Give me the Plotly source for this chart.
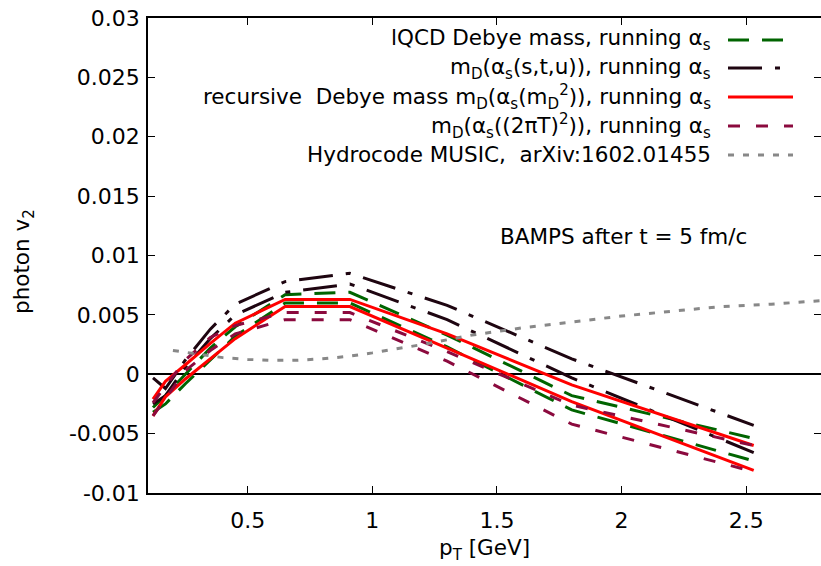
import plotly.graph_objects as go

# ---- data ----
pt = [0.12, 0.17, 0.25, 0.35, 0.45, 0.65, 0.91, 1.3, 1.8, 2.53]

lqcd_hi = [-0.0028, -0.0018, 0.0000, 0.0022, 0.0040, 0.0067, 0.0069, 0.0033, -0.0018, -0.0054]
lqcd_lo = [-0.0032, -0.0025, -0.0008, 0.0012, 0.0032, 0.0060, 0.0060, 0.0023, -0.0030, -0.0073]

stu_hi = [-0.0003, -0.0012, 0.0012, 0.0038, 0.0059, 0.0078, 0.0085, 0.0058, 0.0013, -0.0043]
stu_lo = [-0.0025, -0.0018, 0.0006, 0.0030, 0.0050, 0.0069, 0.0076, 0.0046, -0.0003, -0.0066]

rec_hi = [-0.0021, -0.0006, 0.0008, 0.0026, 0.0043, 0.0063, 0.0063, 0.0034, -0.0009, -0.0060]
rec_lo = [-0.0035, -0.0019, -0.0004, 0.0013, 0.0030, 0.0057, 0.0057, 0.0022, -0.0023, -0.0081]

t2pi_hi = [-0.0024, -0.0010, 0.0012, 0.0031, 0.0041, 0.0052, 0.0052, 0.0019, -0.0026, -0.0060]
t2pi_lo = [-0.0035, -0.0020, 0.0003, 0.0020, 0.0034, 0.0046, 0.0046, 0.0011, -0.0042, -0.0082]

hydro_pt = [0.2, 0.3, 0.4, 0.5, 0.6, 0.7, 0.8, 0.9, 1.0, 1.2, 1.4, 1.6, 1.8, 2.0, 2.2, 2.4, 2.6, 2.8]
hydro_v2 = [0.0020, 0.0017, 0.0014, 0.00125, 0.00117, 0.00118, 0.0013, 0.0015, 0.0018,
            0.0025, 0.0033, 0.0039, 0.0044, 0.0049, 0.0053, 0.0057, 0.0059, 0.0062]

y_tickvals = [-0.01, -0.005, 0, 0.005, 0.01, 0.015, 0.02, 0.025, 0.03]
y_ticktext = ["-0.01", "-0.005", "0", "0.005", "0.01", "0.015", "0.02", "0.025", "0.03"]
x_tickvals = [0.5, 1, 1.5, 2, 2.5]
x_ticktext = ["0.5", "1", "1.5", "2", "2.5"]

legend_labels = [
    "lQCD Debye mass, running α<sub>s</sub>",
    "m<sub>D</sub>(α<sub>s</sub>(s,t,u)), running α<sub>s</sub>",
    "recursive  Debye mass m<sub>D</sub>(α<sub>s</sub>(m<sub>D</sub><sup>2</sup>)), running α<sub>s</sub>",
    "m<sub>D</sub>(α<sub>s</sub>((2πT)<sup>2</sup>)), running α<sub>s</sub>",
    "Hydrocode MUSIC,  arXiv:1602.01455",
]

# ---- styles ----
FONT = "DejaVu Sans, Liberation Sans, Arial, sans-serif"
FS = 21.5
FS_TICK = 22
GREEN = "#006400"
BLACK = "#1e0510"
RED = "#ff0000"
MAROON = "#8b0a3e"
GRAY = "#888888"
LW = 3
styles = [
    (GREEN, "21px,13px"),
    (BLACK, "34px,13px,5px,13px"),
    (RED, "solid"),
    (MAROON, "12px,16px"),
    (GRAY, "6px,9px"),
]

fig = go.Figure()
series = [(lqcd_hi, lqcd_lo), (stu_hi, stu_lo), (rec_hi, rec_lo), (t2pi_hi, t2pi_lo)]
for (hi, lo), (col, dash) in zip(series, styles[:4]):
    for ys in (hi, lo):
        fig.add_trace(go.Scatter(x=pt, y=ys, mode="lines",
                                 line=dict(color=col, width=LW, dash=dash),
                                 showlegend=False, hoverinfo="skip"))
fig.add_trace(go.Scatter(x=hydro_pt, y=hydro_v2, mode="lines",
                         line=dict(color=GRAY, width=LW, dash=styles[4][1]),
                         showlegend=False, hoverinfo="skip"))

# ---- layout geometry ----
W, H = 821, 566
L, R, T, B = 148, 0, 18, 73
pw, ph = W - L - R, H - T - B

def px_to_paper(px, py):
    return (px - L) / pw, (H - B - py) / ph

# custom legend: text right-aligned then line sample (gnuplot style)
row_y = [40, 68, 97, 126, 155]
text_right = 713
samp_x0, samp_x1 = 728, 793
for lab, yy, (col, dash) in zip(legend_labels, row_y, styles):
    xp, yp = px_to_paper(text_right, yy)
    fig.add_annotation(x=xp, y=yp, xref="paper", yref="paper", text=lab,
                       showarrow=False, xanchor="right", yanchor="middle",
                       font=dict(family=FONT, size=FS, color="black"))
    x0p, _ = px_to_paper(samp_x0, yy)
    x1p, _ = px_to_paper(samp_x1, yy)
    fig.add_shape(type="line", xref="paper", yref="paper", x0=x0p, x1=x1p, y0=yp, y1=yp,
                  line=dict(color=col, width=LW, dash=dash))

# BAMPS label
bx, by = px_to_paper(498, 236)
fig.add_annotation(x=bx, y=by, xref="paper", yref="paper", text="BAMPS after t = 5 fm/c",
                   showarrow=False, xanchor="left", yanchor="middle",
                   font=dict(family=FONT, size=FS, color="black"))

# axis titles
ax, ay = px_to_paper(484, 549)
fig.add_annotation(x=ax, y=ay, xref="paper", yref="paper", text="p<sub>T</sub> [GeV]",
                   showarrow=False, xanchor="center", yanchor="middle",
                   font=dict(family=FONT, size=FS, color="black"))
yx, yy_ = px_to_paper(23, 262)
fig.add_annotation(x=yx, y=yy_, xref="paper", yref="paper", text="photon v<sub>2</sub>",
                   showarrow=False, xanchor="center", yanchor="middle", textangle=-90,
                   font=dict(family=FONT, size=FS, color="black"))

axis_common = dict(showline=True, linecolor="black", linewidth=1.5, mirror="allticks",
                   ticks="inside", ticklen=7, tickwidth=1.2, tickcolor="black",
                   showgrid=False, tickfont=dict(family=FONT, size=FS_TICK, color="black"))

fig.update_layout(
    width=W, height=H,
    margin=dict(l=L, r=R, t=T, b=B, autoexpand=False),
    paper_bgcolor="white", plot_bgcolor="white",
    xaxis=dict(range=[0.1, 2.8], tickvals=x_tickvals, ticktext=x_ticktext,
               zeroline=False, ticklabelstandoff=7, **axis_common),
    yaxis=dict(range=[-0.01, 0.03], tickvals=y_tickvals, ticktext=y_ticktext,
               zeroline=True, zerolinecolor="black", zerolinewidth=1.5,
               ticklabelstandoff=2, **axis_common),
    showlegend=False,
)

fig.write_html("out.html", config={"displayModeBar": False},
               post_script="document.body.style.margin='0';document.body.style.padding='0';")
